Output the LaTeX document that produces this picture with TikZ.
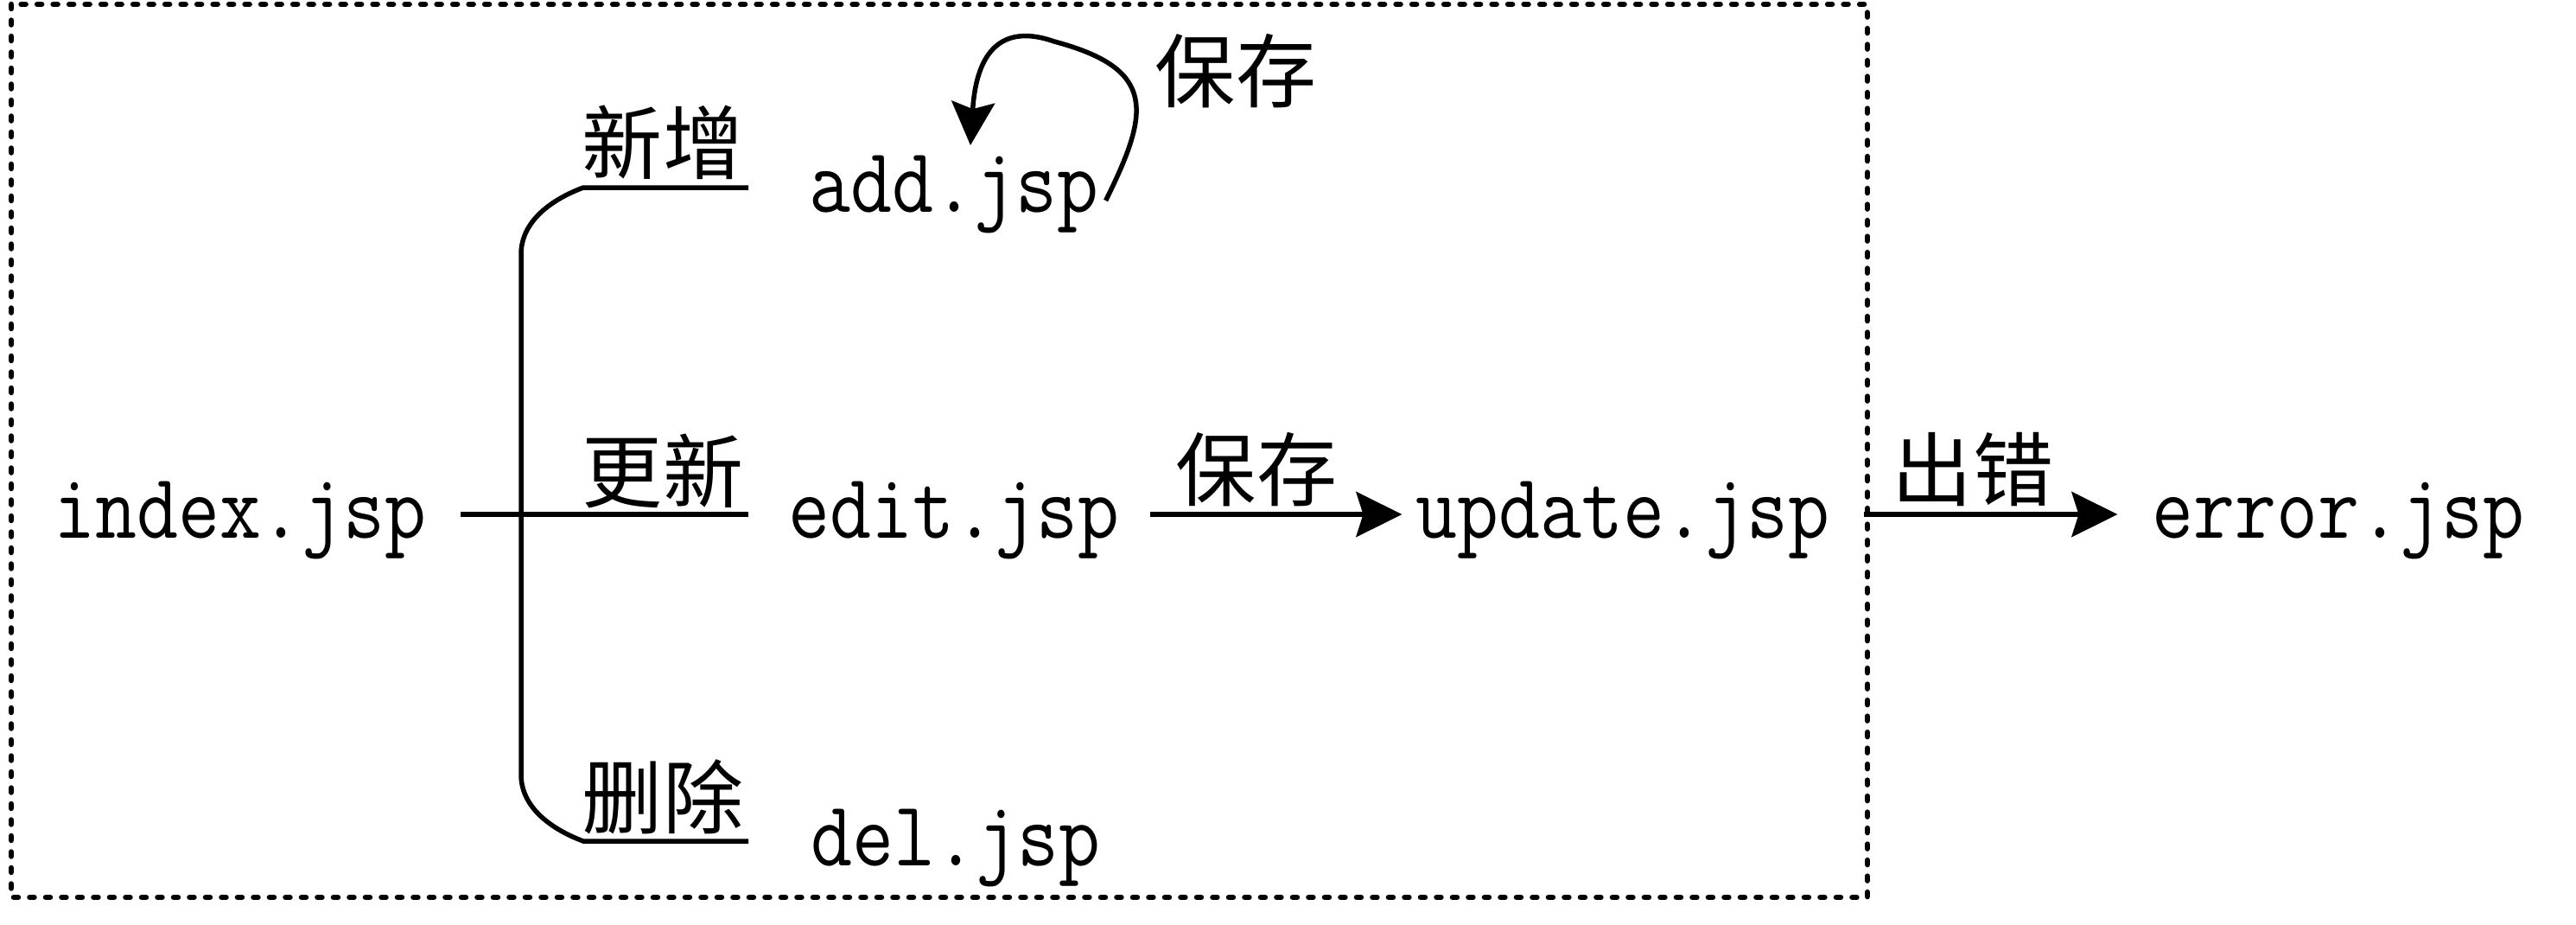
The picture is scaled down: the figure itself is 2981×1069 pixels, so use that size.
\documentclass[tikz,border=0pt]{standalone}
\usepackage{fontspec}
\usepackage{graphicx}
\newfontfamily\cjk{Noto Sans CJK SC}
\usetikzlibrary{arrows.meta}

% taller page names, as in the picture
\newcommand\pg[1]{\scalebox{1}[1.15]{#1}}

\tikzset{
  page/.style={font=\fontsize{26.5}{32}\selectfont\ttfamily, inner sep=0pt, anchor=base},
  tag/.style={font=\fontsize{26.5}{32}\selectfont\cjk, inner sep=0pt},
  link/.style={line width=0.55mm},
  flow/.style={line width=0.6mm, -{Stealth[length=5.3mm, width=5.2mm, inset=0.8mm]}}
}

\begin{document}
\begin{tikzpicture}[x=0.1mm, y=-0.1mm]
  \useasboundingbox (0,0) rectangle (2981,1069);

  % Draw dashed box
  \draw[line width=0.65mm, line cap=round, dash pattern=on 0.5mm off 1.35mm] (13,5) rectangle (2161,1038);

  % Pages
  \node[page] (index) at (278,622) {\pg{index.jsp}};
  \node[page] (add) at (1104,245) {\pg{add.jsp}};
  \node[page] (edit) at (1104,622) {\pg{edit.jsp}};
  \node[page] (del) at (1106,1001) {\pg{del.jsp}};
  \node[page] (update) at (1878,622) {\pg{update.jsp}};
  \node[page] (error) at (2706,622) {\pg{error.jsp}};

  % Branch points of the tree
  \coordinate (root) at (533,595);
  \coordinate (addend) at (866,217);
  \coordinate (editend) at (866,595);
  \coordinate (delend) at (866,973);

  % Draw tree
  \draw[link] (root) -- (editend);
  \draw[link] (addend) -- (675,217) .. controls (640,230) and (603,255) .. (603,294)
    -- (603,896) .. controls (603,935) and (640,960) .. (675,973) -- (delend);

  % Labels on the branches
  \node[tag] (addtag) at (767,165) {新增};
  \node[tag] (edittag) at (767,545) {更新};
  \node[tag] (deltag) at (767,922) {删除};

  % Save loop on add.jsp
  \draw[link, -{Stealth[length=5mm, width=5mm, inset=0.8mm]}]
    ([xshift=0.7mm, yshift=1.3mm]add.base east) .. controls (1330,130) and (1340,80) .. (1220,48)
    .. controls (1140,20) and (1128,90) .. ([xshift=1.9mm, yshift=7.7mm]add.base);
  \node[tag] (savetop) at (1430,82) {保存};

  % Arrows to update.jsp and error.jsp
  \draw[flow] ([xshift=3.4mm, yshift=2.7mm]edit.base east) -- ([xshift=-1.5mm, yshift=2.7mm]update.base west);
  \node[tag] (savemid) at (1454,543) {保存};
  \draw[flow] ([xshift=3.8mm, yshift=2.7mm]update.base east) -- ([xshift=-3.9mm, yshift=2.7mm]error.base west);
  \node[tag] (fail) at (2283,543) {出错};

\end{tikzpicture}
\end{document}
